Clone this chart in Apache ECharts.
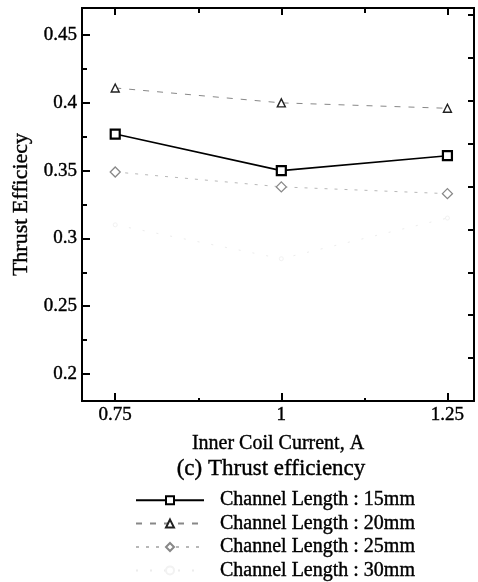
<!DOCTYPE html>
<html>
<head>
<meta charset="utf-8">
<script src="https://cdn.jsdelivr.net/npm/echarts@6/dist/echarts.min.js"></script>
<style>
html,body{margin:0;padding:0;background:#fff;}
#c{width:478px;height:582px;}
</style>
</head>
<body>
<div id="c"></div>
<script>
// ---- data ----
const xValues = [0.75, 1.0, 1.25];
const seriesNames = ['Channel Length : 15mm', 'Channel Length : 20mm', 'Channel Length : 25mm', 'Channel Length : 30mm'];
const len15 = [0.377, 0.350, 0.361];
const len20 = [0.411, 0.400, 0.396];
const len25 = [0.349, 0.338, 0.333];
const len30 = [0.310, 0.285, 0.315];
const yMajorTicks = [0.2, 0.25, 0.3, 0.35, 0.4, 0.45];
const yMinorTicks = [0.225, 0.275, 0.325, 0.375, 0.425];
const xMajorTicks = [0.75, 1, 1.25];
const xMinorTicks = [0.875, 1.125];
const rightTicks = [1, 2, 3, 4, 5, 6, 7, 8, 9];
const titleText = '(c) Thrust efficiency';
const xName = 'Inner Coil Current, A';
const yName = 'Thrust Efficiecy';

const FONT = '"Liberation Serif", "DejaVu Serif", serif';
const X_MIN = 0.7, X_MAX = 1.29, Y_MIN = 0.18, Y_MAX = 0.47;
const HEAVY = {textBorderColor:'#000', textBorderWidth:0.4};

function pairs(vals){ return xValues.map((x,i)=>[x, vals[i]]); }

const chart = echarts.init(document.getElementById('c'), null, {renderer:'canvas'});

const axisLineStyle = {show:true, lineStyle:{color:'#000', width:2}};
function xAx(pos, ticks, len, opts){
  return Object.assign({
    type:'value', position:pos, min:X_MIN, max:X_MAX,
    axisLine: axisLineStyle,
    axisTick:{show:true, inside:true, length:len, customValues:ticks, lineStyle:{color:'#000', width:2}},
    axisLabel:{show:false},
    splitLine:{show:false}
  }, opts||{});
}
function yAx(pos, ticks, len, opts, mn, mx){
  return Object.assign({
    type:'value', position:pos, min:(mn===undefined?Y_MIN:mn), max:(mx===undefined?Y_MAX:mx),
    axisLine: axisLineStyle,
    axisTick:{show:true, inside:true, length:len, customValues:ticks, lineStyle:{color:'#000', width:2}},
    axisLabel:{show:false},
    splitLine:{show:false}
  }, opts||{});
}

const option = {
  backgroundColor:'#fff',
  animation:false,
  title:{
    text:titleText, left:271, top:457, textAlign:'center', padding:0,
    textStyle:Object.assign({fontFamily:FONT, fontSize:23, fontWeight:'normal', color:'#000'}, HEAVY)
  },
  legend:{
    orient:'vertical', left:135, top:490, padding:0,
    itemWidth:68, itemHeight:10, itemGap:3,
    data:seriesNames,
    textStyle:Object.assign({fontFamily:FONT, fontSize:20, color:'#000', padding:[0,0,0,11]}, HEAVY)
  },
  grid:{left:82, right:4, top:8, bottom:181, containLabel:false},
  xAxis:[
    xAx('bottom', xMajorTicks, 8, {
      name:xName, nameLocation:'middle', nameGap:33,
      nameTextStyle:Object.assign({fontFamily:FONT, fontSize:20, color:'#000'}, HEAVY),
      axisLabel:Object.assign({show:true, customValues:xMajorTicks, margin:5,
        fontFamily:FONT, fontSize:19, color:'#000',
        formatter:v=>String(v)}, HEAVY)
    }),
    xAx('bottom', xMinorTicks, 3),
    xAx('top', xMajorTicks, 7),
    xAx('top', xMinorTicks, 5)
  ],
  yAxis:[
    yAx('left', yMajorTicks, 8, {
      name:yName, nameLocation:'middle', nameGap:50,
      nameTextStyle:Object.assign({fontFamily:FONT, fontSize:22, color:'#000'}, HEAVY),
      axisLabel:Object.assign({show:true, customValues:yMajorTicks, margin:5,
        fontFamily:FONT, fontSize:19, color:'#000',
        formatter:v=>String(Math.round(v*100)/100)}, HEAVY)
    }),
    yAx('left', yMinorTicks, 5),
    yAx('right', rightTicks, 6, {}, 0, 9.16)
  ],
  series:[
    {
      name:seriesNames[0], type:'line', xAxisIndex:0, yAxisIndex:0,
      data:pairs(len15), symbol:'rect', symbolSize:9,
      lineStyle:{color:'#000', width:1.6, type:'solid'},
      itemStyle:{color:'#fff', borderColor:'#000', borderWidth:2.2},
      z:5
    },
    {
      name:seriesNames[1], type:'line', xAxisIndex:0, yAxisIndex:0,
      data:pairs(len20), symbol:'triangle', symbolSize:8,
      lineStyle:{color:'#888', width:1, type:[6,8]},
      itemStyle:{color:'#fff', borderColor:'#222', borderWidth:1.4},
      z:4
    },
    {
      name:seriesNames[2], type:'line', xAxisIndex:0, yAxisIndex:0,
      data:pairs(len25), symbol:'diamond', symbolSize:10,
      lineStyle:{color:'#b8b8b8', width:1, type:[3,7]},
      itemStyle:{color:'#fff', borderColor:'#888', borderWidth:1.3},
      z:3
    },
    {
      name:seriesNames[3], type:'line', xAxisIndex:0, yAxisIndex:0,
      data:pairs(len30), symbol:'circle', symbolSize:4,
      lineStyle:{color:'#ececec', width:1, type:[2,12]},
      itemStyle:{color:'#fff', borderColor:'#f2f2f2', borderWidth:1},
      z:2
    }
  ]
};
chart.setOption(option);
</script>
</body>
</html>
